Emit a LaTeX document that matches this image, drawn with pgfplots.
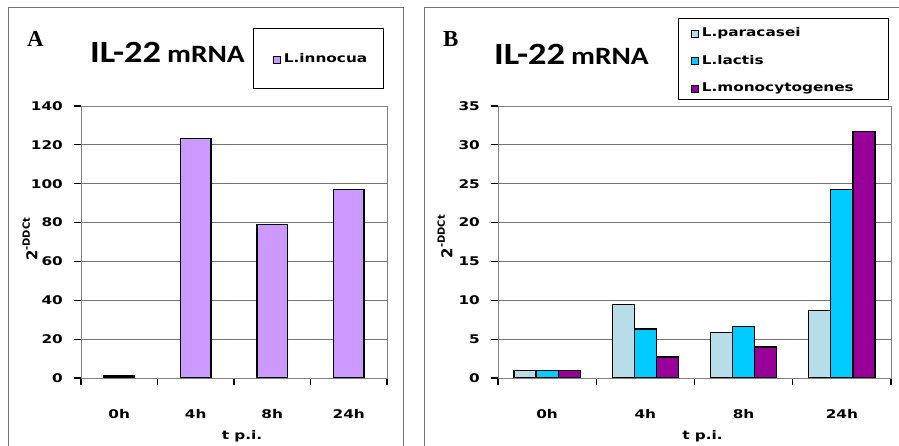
\documentclass[border=0pt]{standalone}
\usepackage{fontspec}
\usepackage{pgfplots}
\pgfplotsset{compat=1.18}
\setmainfont{DejaVu Sans}
\newfontfamily\tf[FakeStretch=1.28, BoldFeatures={FakeStretch=1.28}]{DejaVu Sans}
\newfontfamily\df{DejaVu Sans}
\newfontfamily\ttlf[FakeStretch=1.18, BoldFeatures={FakeStretch=1.18}]{Carlito}
\newfontfamily\serf{Liberation Serif}
\newcommand\tickfont{\tf\bfseries\fontsize{12}{14}\selectfont}
\newcommand\legfont{\tf\bfseries\fontsize{12}{14}\selectfont}
\definecolor{innoc}{HTML}{CC99FF}
\definecolor{parac}{HTML}{B7DEE8}
\definecolor{lact}{HTML}{00CCFF}
\definecolor{mono}{HTML}{990099}
\pgfplotsset{
  sq legend/.style={legend image code/.code={\draw[##1, line width=0.8bp] (0bp,-3.5bp) rectangle (7bp,3.5bp);}},
  panel/.style={
    scale only axis, height=272bp, anchor=south west,
    ymin=0, xmin=-0.5, xmax=3.5,
    xtick={-0.5,0.5,1.5,2.5,3.5}, xticklabels={0h,4h,8h,24h,},
    tick pos=left,
    tick align=outside, major tick length=7bp,
    tick style={draw=black, line width=1.1bp},
    ymajorgrids, major grid style={black!55, line width=0.8bp},
    axis line style={black!50, line width=0.8bp},
    /pgf/number format/assume math mode=true,
    yticklabel style={font=\tickfont, anchor=east, inner sep=0pt, xshift=-11bp},
    xlabel={t p.i.},
    every axis x label/.style={at={(axis description cs:0.5,0)}, anchor=base, yshift=-61bp, xshift=8bp, font=\tickfont},
    ylabel={2\raisebox{0.5em}{\fontsize{10}{11}\selectfont -DDCt}},
    ylabel style={font=\df\bfseries\fontsize{15}{16}\selectfont, anchor=center, rotate=0},
    legend cell align=left,
    legend style={draw=none, fill=none, inner sep=0pt, outer sep=0pt, font=\legfont,
      anchor=north west, row sep=15.5bp, column sep=3bp,
      nodes={inner sep=0pt, text height=9bp, text depth=3bp}},
    every axis plot post/.append style={sq legend},
  }
}
\begin{document}
\begin{tikzpicture}[x=1bp,y=1bp]
\begin{axis}[panel, at={(81bp,68bp)}, width=306bp, ymax=140, ytick={0,20,...,140},
  ybar=0pt, bar width=0.40,
  xticklabel style={font=\tickfont, anchor=base, inner sep=0pt, yshift=-33bp, xshift=38.25bp},
  every axis y label/.append style={at={(axis description cs:-0.1667,0.51)}},
  legend style={at={(axis description cs:0.6275,1.193)}}]
\addplot[fill=innoc, draw=black, line width=1.2bp] coordinates {(0,1) (1,123.3) (2,79) (3,97)};
\legend{L.innocua}
\end{axis}
\begin{axis}[panel, at={(498bp,68bp)}, width=393bp, ymax=35, ytick={0,5,...,35},
  ybar=0pt, bar width=0.225,
  xticklabel style={font=\tickfont, anchor=base, inner sep=0pt, yshift=-33bp, xshift=49.1bp},
  every axis y label/.append style={at={(axis description cs:-0.135,0.52)}},
  legend style={at={(axis description cs:0.491,1.2886)}}]
\addplot[fill=parac, draw=black, line width=1.2bp] coordinates {(0,1) (1,9.5) (2,5.9) (3,8.7)};
\addplot[fill=lact, draw=black, line width=1.2bp] coordinates {(0,1) (1,6.3) (2,6.6) (3,24.3)};
\addplot[fill=mono, draw=black, line width=1.2bp] coordinates {(0,1) (1,2.7) (2,4.0) (3,31.7)};
\legend{L.paracasei, L.lactis, L.monocytogenes}
\end{axis}
\node[anchor=base west, inner sep=0pt, font=\ttlf\bfseries] at (90bp,383bp) {\fontsize{31}{31}\selectfont IL-22\hspace{6bp}\fontsize{25}{25}\selectfont mRNA};
\node[anchor=base west, inner sep=0pt, font=\ttlf\bfseries] at (494bp,381bp) {\fontsize{31}{31}\selectfont IL-22\hspace{6bp}\fontsize{25}{25}\selectfont mRNA};
\node[anchor=base west, inner sep=0pt, font=\serf\bfseries\fontsize{23}{23}\selectfont] at (27bp,399bp) {A};
\node[anchor=base west, inner sep=0pt, font=\serf\bfseries\fontsize{23}{23}\selectfont] at (443bp,399bp) {B};
\draw[black, line width=0.8bp] (253bp,358bp) rectangle (383bp,418bp);
\draw[black, line width=0.8bp] (678bp,347bp) rectangle (888bp,428bp);
\draw[black!55, line width=1bp] (8bp,-2bp) -- (8bp,438bp) -- (403bp,438bp) -- (403bp,-2bp);
\draw[black!55, line width=1bp] (424bp,-2bp) -- (424bp,438bp) -- (902bp,438bp);
\pgfresetboundingbox
\useasboundingbox (0,0) rectangle (899bp,446bp);
\end{tikzpicture}
\end{document}
